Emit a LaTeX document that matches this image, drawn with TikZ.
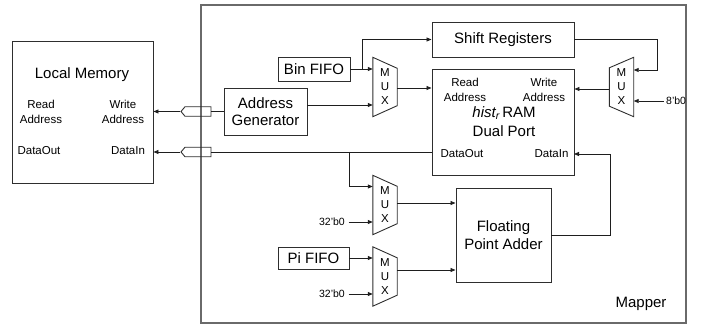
\documentclass[tikz,border=0pt]{standalone}
\usepackage{fontspec}
\setmainfont{Liberation Sans}
\usetikzlibrary{arrows.meta,calc,shapes.symbols}
\definecolor{linec}{HTML}{1E1E1E}
\definecolor{boxc}{HTML}{2E2E2E}
\definecolor{mapc}{HTML}{6A6A6A}
\tikzset{
 blk/.style={draw=boxc, line width=0.9pt, inner sep=0pt, align=center, font=\fontsize{15}{17.5}\selectfont},
 big/.style={inner sep=0pt, align=center, font=\fontsize{15}{19}\selectfont},
 muxn/.style={minimum width=24pt, minimum height=59pt, inner sep=0pt, align=center, font=\fontsize{11.5}{14}\selectfont},
 lbl/.style={font=\fontsize{11.5}{15.5}\selectfont, align=center, inner sep=0pt},
 sml/.style={font=\fontsize{10.5}{12}\selectfont, inner sep=0pt},
 boxline/.style={draw=boxc, line width=0.9pt},
 wire/.style={draw=linec, line width=0.8pt},
 arr/.style={wire, -{Triangle[length=5pt,width=4pt]}},
 conn/.style={signal, signal to=west, signal pointer angle=100, draw=boxc, line width=0.9pt, minimum width=30pt, minimum height=9.5pt, inner sep=0pt}
}
\newcommand\drawmuxL[1]{\draw[boxline] (#1.north west) -- ([yshift=-11pt]#1.north east) -- ([yshift=11pt]#1.south east) -- (#1.south west) -- cycle;}
\newcommand\drawmuxR[1]{\draw[boxline] (#1.north east) -- ([yshift=-10.5pt]#1.north west) -- ([yshift=10.5pt]#1.south west) -- (#1.south east) -- cycle;}
\begin{document}
\begin{tikzpicture}[x=1pt,y=-1pt]
\useasboundingbox (0,0) rectangle (702,326);
% Mapper
\node[draw=mapc, line width=1.4pt, minimum width=485pt, minimum height=318pt, inner sep=0pt] (mapper) at (443.5,164) {};
\node[big] (maplbl) at (641,304) {Mapper};
% Local memory
\node[blk, minimum width=141pt, minimum height=142pt] (lm) at (82.5,112) {};
\node[big] (lmt) at (82,75) {Local Memory};
\node[lbl] (lmra) at (41,112) {Read\\Address};
\node[lbl] (lmwa) at (123,112) {Write\\Address};
\node[lbl] (lmdo) at (39,151) {DataOut};
\node[lbl] (lmdi) at (128,151) {DataIn};
% connectors
\node[conn] (c1) at (198,111.5) {};
\node[conn] (c2) at (198,152) {};
% blocks
\node[blk, minimum width=83pt, minimum height=47pt] (ag) at (265.5,111.5) {Address\\Generator};
\node[blk, minimum width=72pt, minimum height=24pt] (bin) at (314,69) {Bin FIFO};
\node[blk, minimum width=142pt, minimum height=35pt] (sr) at (503,39.5) {Shift Registers};
\node[blk, minimum width=142pt, minimum height=106pt] (ram) at (503,122) {};
\node[big] (ramt) at (504,121.5) {{\itshape hist\textsubscript{r}}\,RAM\\Dual Port};
\node[lbl] (ramra) at (465,90) {Read\\Address};
\node[lbl] (ramwa) at (544,90) {Write\\Address};
\node[lbl] (ramdo) at (462,154) {DataOut};
\node[lbl] (ramdi) at (551.5,154) {DataIn};
\node[blk, minimum width=95pt, minimum height=94pt] (fpa) at (503.5,235) {Floating\\Point Adder};
\node[blk, minimum width=71pt, minimum height=22pt] (pi) at (313.5,258) {Pi FIFO};
% muxes
\node[muxn] (mux1) at (385,87) {M\\U\\X};
\node[muxn] (mux2) at (621.5,87) {M\\U\\X};
\node[muxn] (mux3) at (385,205) {M\\U\\X};
\node[muxn] (mux4) at (385,276.5) {M\\U\\X};
\drawmuxL{mux1}
\drawmuxR{mux2}
\drawmuxL{mux3}
\drawmuxL{mux4}
% constants
\node[sml, anchor=west] (c8) at (666,101) {8'b0};
\node[sml, anchor=east] (z1) at (345,222) {32'b0};
\node[sml, anchor=east] (z2) at (345,294) {32'b0};
% coordinates
\coordinate (m1b) at ([yshift=-18pt]mux1.west);
\coordinate (m1o) at ([yshift=-1pt]mux1.east);
\coordinate (m2a) at ([yshift=17pt]mux2.east);
\coordinate (m2b) at ([yshift=-14pt]mux2.east);
\coordinate (m2o) at ([yshift=-2pt]mux2.west);
\coordinate (m3a) at ([yshift=18.5pt]mux3.west);
\coordinate (m3b) at ([yshift=-17pt]mux3.west);
\coordinate (m3o) at ([yshift=2pt]mux3.east);
\coordinate (m4b) at ([yshift=-17.5pt]mux4.west);
\coordinate (m4o) at ([yshift=6.5pt]mux4.east);
\coordinate (br1) at (349,152);
\coordinate (br2) at (362,69);
\coordinate (turn1) at (657,0);
\coordinate (turn2) at (610,0);
\coordinate (din) at (574,154);
% wires
\draw[wire] (ag.west) -- (c1.east);
\draw[arr] (c1.west) -- (lm.east |- c1.west);
\draw[wire] (ram.west |- c2.east) -- (c2.east);
\draw[arr] (c2.west) -- (lm.east |- c2.west);
\draw[arr] (bin.east) -- (mux1.west |- bin.east);
\draw[arr] (br2) |- (sr.west);
\draw[arr] (ag.east |- m1b) -- (m1b);
\draw[arr] (m1o) -- (ram.west |- m1o);
\draw[arr] (sr.east) -| (turn1 |- m2a) -- (m2a);
\draw[arr] ([xshift=-2.5pt]c8.west) -- (m2b);
\draw[arr] (m2o) -- (ram.east |- m2o);
\draw[arr] (fpa.east) -| (turn2 |- din) -- (din);
\draw[arr] (br1) |- (m3a);
\draw[arr] ([xshift=3.5pt]z1.east) -- (m3b);
\draw[arr] (m3o) -- (fpa.west |- m3o);
\draw[arr] (pi.east) -- (mux4.west |- pi.east);
\draw[arr] ([xshift=3.5pt]z2.east) -- (m4b);
\draw[arr] (m4o) -- (fpa.west |- m4o);
\end{tikzpicture}
\end{document}
